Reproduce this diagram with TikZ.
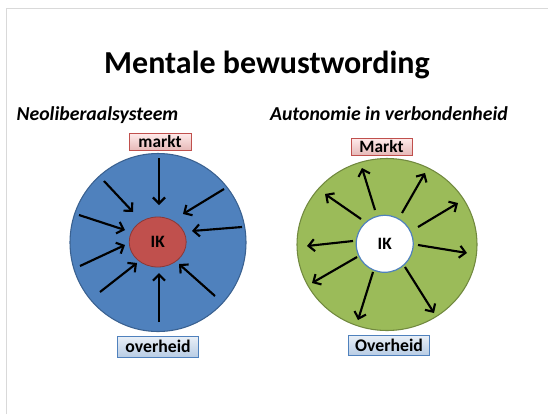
\documentclass[tikz,border=0pt]{standalone}
\usepackage{fontspec}
\setmainfont{Carlito}
\usetikzlibrary{arrows.meta}
\usetikzlibrary{shapes.geometric}

\definecolor{blauw}{HTML}{4F81BD}
\definecolor{blauwrand}{HTML}{3A6190}
\definecolor{groen}{HTML}{9BBB59}
\definecolor{groenrand}{HTML}{71893F}
\definecolor{rood}{HTML}{C0504D}
\definecolor{roodrand}{HTML}{8C3836}

\begin{document}
\begin{tikzpicture}[x=0.75pt, y=-0.75pt,
        pijl/.style={line width=1.6pt, -{Straight Barb[length=4.5pt,width=9pt]}},
        roze/.style={draw=rood, line width=0.6pt, top color=red!8, bottom color=rood!40,
            minimum width=61*0.75pt, minimum height=17*0.75pt, inner sep=0pt,
            font=\bfseries\fontsize{13}{14}\selectfont},
        lichtblauw/.style={draw=blauw, line width=0.6pt, top color=blauw!12, bottom color=blauw!40,
            minimum width=81*0.75pt, minimum height=21*0.75pt, inner sep=0pt,
            font=\bfseries\fontsize{13.3}{14}\selectfont}]
    \useasboundingbox (0,0) rectangle (548,414);
    \draw[black!15, line width=1.2pt] (6.5,414) -- (6.5,8.5) -- (548,8.5);

    \node[anchor=base, font=\bfseries\fontsize{24}{28}\selectfont] (titel) at (267,73) {Mentale bewustwording};
    \node[anchor=base, font=\bfseries\itshape\fontsize{14.8}{16}\selectfont] (links) at (97.5,120) {Neoliberaalsysteem};
    \node[anchor=base, font=\bfseries\itshape\fontsize{14.8}{16}\selectfont] (rechts) at (389,120) {Autonomie in verbondenheid};

    % links: alles wijst naar binnen
    \node[ellipse, draw=blauwrand, fill=blauw, line width=0.8pt, minimum width=176*0.75pt, minimum height=178*0.75pt] (buitenL) at (158,242.5) {};
    \node[ellipse, draw=roodrand, fill=rood, line width=0.6pt, minimum width=57*0.75pt, minimum height=50*0.75pt,
        font=\bfseries\fontsize{13}{14}\selectfont] (ikL) at (157.7,242) {IK};
    \foreach \xa/\ya/\xb/\yb [count=\i] in {159/158/159/205, 104/181/133/212, 79/215/125/230,
            80/266/125/245, 100/292/137/263, 159/322/159/273, 215/296/179/264,
            242/227/192/231, 224/189/183/214} {
        \coordinate (vanL\i) at (\xa,\ya);
        \coordinate (naarL\i) at (\xb,\yb);
        \draw[pijl] (vanL\i) -- (naarL\i);
    }
    \node[roze, minimum width=62*0.75pt] (markt) at (160,141.7) {markt};
    \node[lichtblauw] (overheid) at (158,346.5) {overheid};

    % rechts: alles wijst naar buiten
    \node[ellipse, draw=groenrand, fill=groen, line width=0.8pt, minimum width=180*0.75pt, minimum height=172*0.75pt] (buitenR) at (387,244.5) {};
    \node[circle, draw=blauw, fill=white, line width=0.9pt, minimum size=57*0.75pt,
        font=\bfseries\fontsize{13}{14}\selectfont] (ikR) at (384.7,243.8) {IK};
    \foreach \xa/\ya/\xb/\yb [count=\i] in {375/210/362/168, 361/219/325/194, 353/241/307/246,
            357/257/312/283, 373/272/358/320, 405/267/434/313, 418/245/467/253,
            418/227/458/203, 402/213/425/173} {
        \coordinate (vanR\i) at (\xa,\ya);
        \coordinate (naarR\i) at (\xb,\yb);
        \draw[pijl] (vanR\i) -- (naarR\i);
    }
    \node[roze] (Markt) at (381.5,146.5) {Markt};
    \node[lichtblauw, minimum height=20*0.75pt] (Overheid) at (389,345) {Overheid};
\end{tikzpicture}
\end{document}
